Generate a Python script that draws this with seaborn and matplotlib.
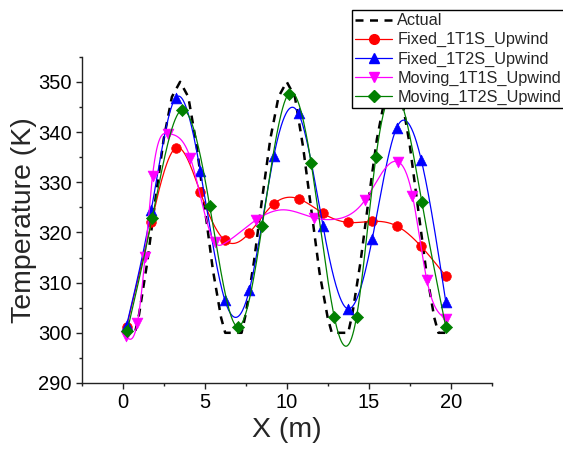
import numpy as np
import pandas as pd
import matplotlib
matplotlib.use("Agg")
import matplotlib.pyplot as plt
from matplotlib.lines import Line2D
from matplotlib.ticker import MultipleLocator
import seaborn as sns

# ---------------- data ----------------
actual_x = [0.0, 0.75, 1.0, 1.5, 2.0, 2.5, 3.0, 3.5, 4.0, 4.5, 5.0, 5.5, 6.0, 6.25,
            7.25, 7.5, 8.0, 8.5, 9.0, 9.5, 10.0, 10.5, 11.0, 11.5, 12.0, 12.5, 12.75,
            13.75, 14.0, 14.5, 15.0, 15.5, 16.0, 16.5, 17.0, 17.5, 18.0, 18.5, 19.0, 19.25, 20.0]
actual_y = [300.0, 300.0, 303.7, 314.1, 326.7, 338.6, 347.0, 350.0, 347.0, 337.5, 325.0, 312.5, 303.0, 300.0,
            300.0, 303.7, 314.1, 326.7, 338.6, 347.0, 350.0, 347.0, 337.0, 324.5, 312.0, 303.0, 300.0,
            300.0, 303.7, 314.1, 326.7, 338.6, 347.0, 350.0, 347.0, 337.5, 325.0, 312.5, 303.0, 300.0, 300.0]

fixed_x = [0.24, 1.74, 3.23, 4.73, 6.23, 7.72, 9.22, 10.72, 12.21, 13.71, 15.21, 16.70, 18.20, 19.70]
fixed_1t1s_y = [301.2, 322.0, 336.8, 328.0, 318.4, 319.9, 325.7, 326.7, 323.8, 322.0, 322.2, 321.3, 317.2, 311.3]
fixed_1t2s_y = [301.5, 324.4, 346.8, 332.3, 306.5, 308.5, 335.3, 343.7, 321.3, 304.8, 318.6, 340.8, 334.5, 306.2]

moving_1t1s_x = [0.18, 0.89, 1.36, 1.82, 2.77, 4.13, 5.61, 8.10, 11.69, 14.79, 16.76, 17.67, 18.54, 19.70]
moving_1t1s_y = [299.3, 301.9, 315.1, 331.3, 339.7, 334.8, 318.0, 322.4, 322.9, 326.5, 334.1, 327.3, 310.6, 302.8]
# extra points of the Moving_1T1S line between its markers
moving_1t1s_line_x = [6.20, 9.80, 12.90]
moving_1t1s_line_y = [317.8, 324.5, 322.6]

moving_1t2s_x = [0.28, 1.80, 3.62, 5.31, 7.03, 8.50, 10.11, 11.49, 12.90, 14.26, 15.44, 16.85, 18.24, 19.70]
moving_1t2s_y = [300.4, 322.9, 344.4, 325.2, 301.2, 321.2, 347.6, 333.8, 303.2, 303.2, 335.0, 347.0, 326.0, 301.2]

labels = ["Actual", "Fixed_1T1S_Upwind", "Fixed_1T2S_Upwind",
          "Moving_1T1S_Upwind", "Moving_1T2S_Upwind"]


def spline_curve(x, y, n=600):
    """Natural cubic spline used only to draw the smooth connecting line."""
    order = np.argsort(x)
    x = np.asarray(x, float)[order]
    y = np.asarray(y, float)[order]
    m = len(x)
    h = np.diff(x)
    A = np.zeros((m, m))
    b = np.zeros(m)
    A[0, 0] = 1.0
    A[-1, -1] = 1.0
    for i in range(1, m - 1):
        A[i, i - 1] = h[i - 1]
        A[i, i] = 2 * (h[i - 1] + h[i])
        A[i, i + 1] = h[i]
        b[i] = 3 * ((y[i + 1] - y[i]) / h[i] - (y[i] - y[i - 1]) / h[i - 1])
    c = np.linalg.solve(A, b)
    xs = np.linspace(x[0], x[-1], n)
    idx = np.clip(np.searchsorted(x, xs) - 1, 0, m - 2)
    t = xs - x[idx]
    bb = (y[idx + 1] - y[idx]) / h[idx] - h[idx] * (2 * c[idx] + c[idx + 1]) / 3
    d = (c[idx + 1] - c[idx]) / (3 * h[idx])
    ys = y[idx] + bb * t + c[idx] * t ** 2 + d * t ** 3
    return xs, ys


sns.set_style("ticks")
plt.rcParams["font.family"] = ["Liberation Sans", "DejaVu Sans"]

fig = plt.figure(figsize=(5.63, 4.57), dpi=100)
ax = fig.add_axes([81.7 / 563, 1 - 383 / 457, (491.7 - 81.7) / 563, (383 - 56.7) / 457])

# Actual (dashed)
df_a = pd.DataFrame({"x": actual_x, "y": actual_y})
sns.lineplot(data=df_a, x="x", y="y", ax=ax, color="black", lw=1.8,
             estimator=None, sort=False, zorder=2)
ax.lines[-1].set_dashes((3.2, 2.6))

series = [
    (fixed_x, fixed_1t1s_y, [], [], "#FF0000", "o", 48),
    (fixed_x, fixed_1t2s_y, [], [], "#0000FF", "^", 60),
    (moving_1t1s_x, moving_1t1s_y, moving_1t1s_line_x, moving_1t1s_line_y, "#FF00FF", "v", 60),
    (moving_1t2s_x, moving_1t2s_y, [], [], "#008000", "D", 38),
]
for i, (sx, sy, ex, ey, col, mk, s) in enumerate(series):
    xs, ys = spline_curve(list(sx) + list(ex), list(sy) + list(ey))
    sns.lineplot(x=xs, y=ys, ax=ax, color=col, lw=0.9, estimator=None,
                 sort=False, zorder=3 + i)
    sns.scatterplot(x=sx, y=sy, ax=ax, color=col, marker=mk, s=s,
                    edgecolor=col, linewidth=0.5, zorder=3 + i)

ax.set_xlim(-2.5, 22.5)
ax.set_ylim(290, 355)
ax.xaxis.set_major_locator(MultipleLocator(5))
ax.xaxis.set_minor_locator(MultipleLocator(2.5))
ax.yaxis.set_major_locator(MultipleLocator(10))
ax.yaxis.set_minor_locator(MultipleLocator(5))
ax.set_xticks([0, 5, 10, 15, 20])
ax.set_yticks([290, 300, 310, 320, 330, 340, 350])

for side in ["top", "right"]:
    ax.spines[side].set_visible(False)
for side in ["left", "bottom"]:
    ax.spines[side].set_linewidth(1.0)
    ax.spines[side].set_color("#222222")

ax.tick_params(which="major", direction="out", length=4, width=1.0,
               labelsize=14.5, pad=3, color="#222222", labelcolor="black")
ax.tick_params(which="minor", direction="out", length=2.5, width=1.0, color="#222222")

ax.set_xlabel("X (m)", fontsize=20.5)
ax.set_ylabel("Temperature (K)", fontsize=20.5)
ax.xaxis.set_label_coords(0.5, -0.103)
ax.yaxis.set_label_coords(-0.108, 0.5)

handles = [
    Line2D([], [], color="black", ls=(0, (3.2, 2.6)), lw=1.8),
    Line2D([], [], color="#FF0000", marker="o", ms=7, lw=0.9),
    Line2D([], [], color="#0000FF", marker="^", ms=7.5, lw=0.9),
    Line2D([], [], color="#FF00FF", marker="v", ms=7.5, lw=0.9),
    Line2D([], [], color="#008000", marker="D", ms=6, lw=0.9),
]
leg = fig.legend(handles, labels, loc="upper left",
                 bbox_to_anchor=(351.7 / 563, 1 - 10 / 457),
                 fontsize=11.7, frameon=True, fancybox=False, framealpha=1,
                 edgecolor="black", borderpad=0.2, labelspacing=0.25,
                 handlelength=2.3, handletextpad=0.3, borderaxespad=0)
leg.get_frame().set_linewidth(1.0)

fig.savefig("out.png", dpi=100, facecolor="white")
